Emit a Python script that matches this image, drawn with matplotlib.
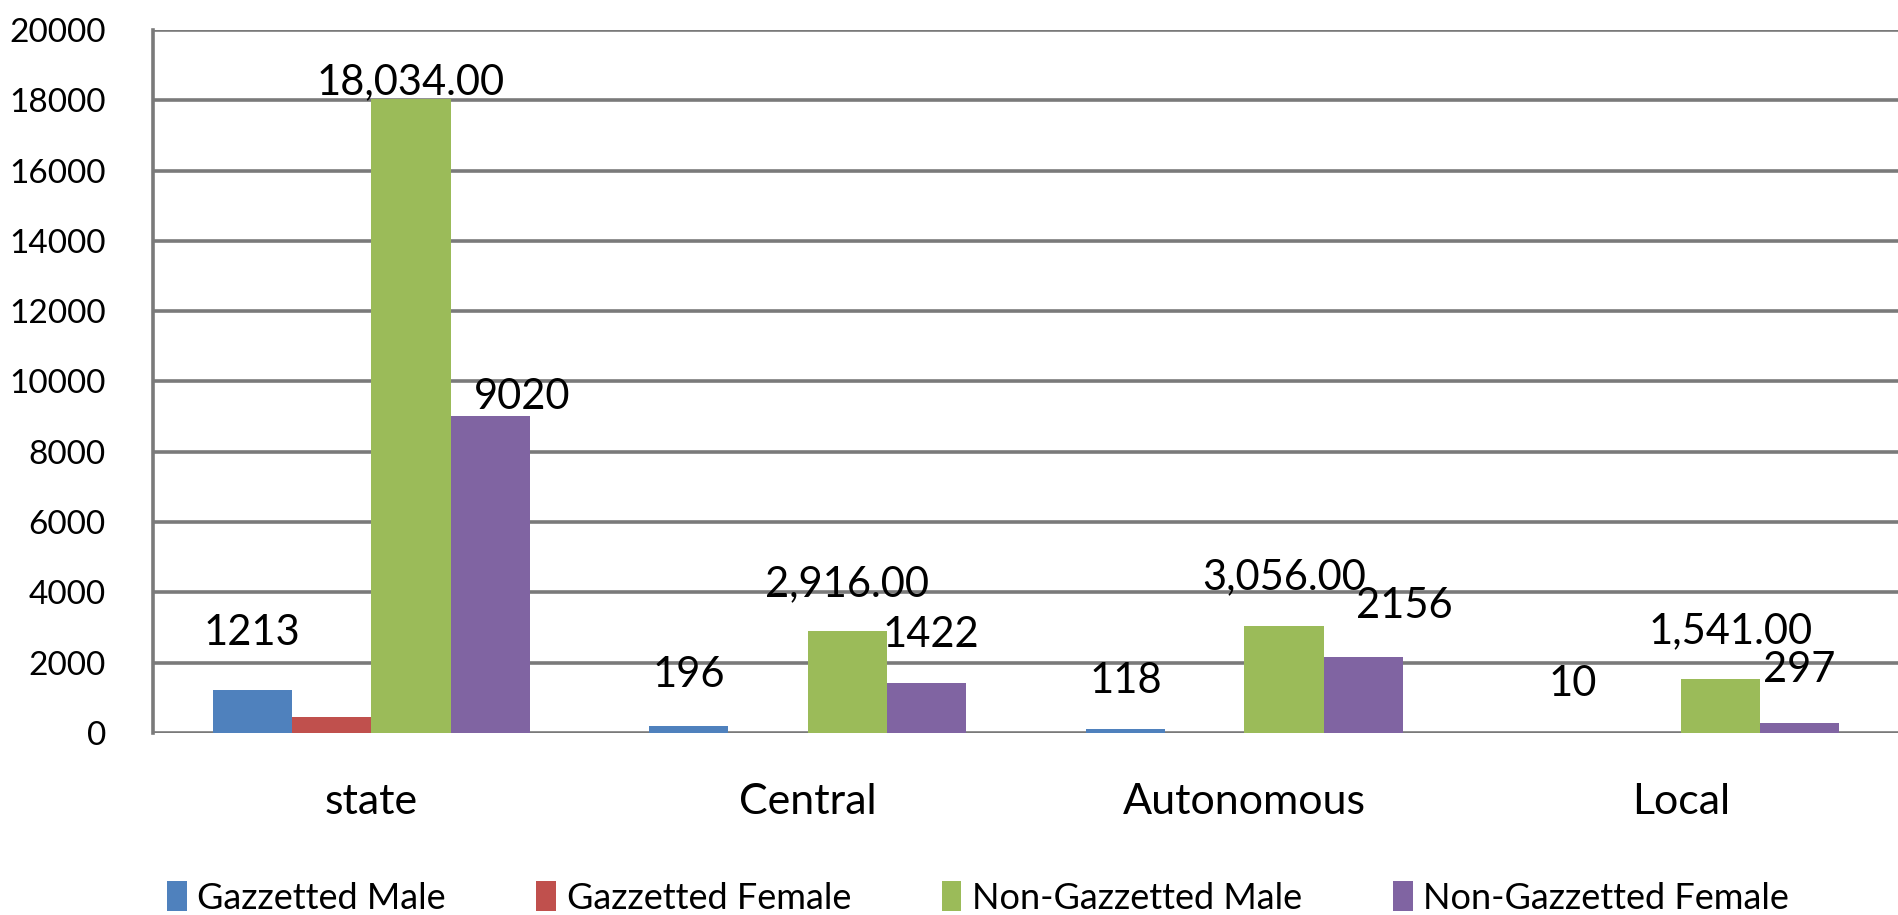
import matplotlib
matplotlib.use("Agg")
import matplotlib.pyplot as plt
import numpy as np
from matplotlib.patches import Patch

categories = ["state", "Central", "Autonomous", "Local"]
series_names = ["Gazzetted Male", "Gazzetted Female", "Non-Gazzetted Male", "Non-Gazzetted Female"]
gazetted_male = [1213, 196, 118, 10]
gazetted_female = [450, 0, 0, 0]
non_gazetted_male = [18034, 2916, 3056, 1541]
non_gazetted_female = [9020, 1422, 2156, 297]
yticks = list(range(0, 20001, 2000))

series = [gazetted_male, gazetted_female, non_gazetted_male, non_gazetted_female]
colors = ["#4F81BD", "#C0504D", "#9BBB59", "#8064A2"]
label_fmt = ["{:d}", None, "{:,.2f}", "{:d}"]
# label offsets in pixels (dx, dy of label centre above bar top)
label_off = [
    [(0, 57), (0, 51), (0, 48), (11, 49)],
    None,
    [(0, 17), (0, 46), (0, 48), (10, 48)],
    [(32, 19), (4, 48), (41, 51), (0, 53)],
]

plt.rcParams['font.family'] = ['Lato', 'DejaVu Sans']

fig = plt.figure(figsize=(18.99, 9.15), dpi=100)
ax = fig.add_axes([153/1899, 1-733/915, 1-153/1899, (733-30)/915])

x = np.arange(len(categories))
bw = 0.1816
for j, vals in enumerate(series):
    pos = x + (j - 1.5) * bw
    ax.bar(pos, vals, width=bw, color=colors[j], zorder=3, linewidth=0)
    if label_fmt[j] is None:
        continue
    for i, v in enumerate(vals):
        dx, dy = label_off[j][i]
        ax.annotate(label_fmt[j].format(v), (pos[i], v), xytext=(dx, dy),
                    textcoords='offset pixels', ha='center', va='center',
                    fontsize=30, color='black', zorder=5)

ax.set_xlim(-0.5, 3.5)
ax.set_ylim(0, 20000)
ax.set_yticks(yticks)
ax.set_yticklabels([str(t) for t in yticks], fontsize=24)
ax.set_xticks(x)
ax.set_xticklabels(categories, fontsize=31)
ax.grid(axis='y', color='#7a7a7a', linewidth=2.6, zorder=1)
ax.tick_params(axis='y', length=0, pad=34)
ax.tick_params(axis='x', length=0, pad=36)
for s in ['top', 'right', 'bottom']:
    ax.spines[s].set_visible(False)
ax.spines['left'].set_color('#7a7a7a')
ax.spines['left'].set_linewidth(2.6)

handles = [Patch(facecolor=c, edgecolor='none') for c in colors]
fig.legend(handles, series_names, loc='center', bbox_to_anchor=(0.515, 1-898/915),
           ncol=4, frameon=False, fontsize=26, handlelength=0.55, handleheight=0.9,
           handletextpad=0.3, columnspacing=2.5)

fig.savefig("out.png", dpi=100)
